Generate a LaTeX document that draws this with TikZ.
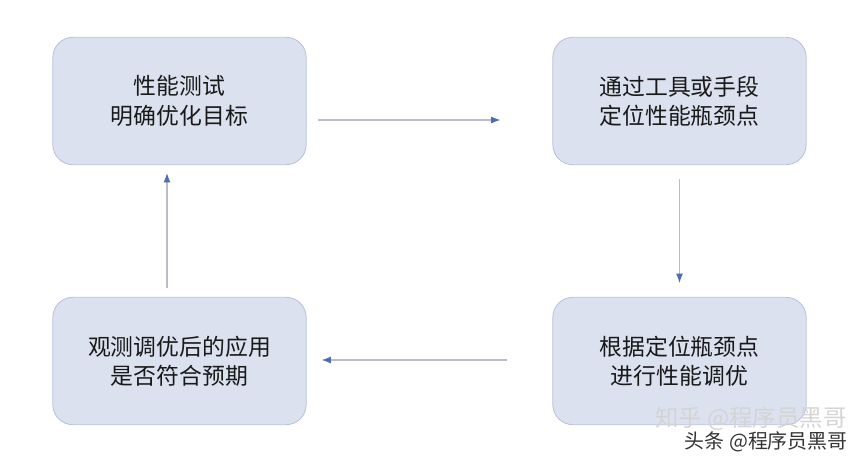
\documentclass[tikz,border=0pt]{standalone}
\usepackage{fontspec}
\usepackage{xcolor}
\usepackage{tikz}
\usetikzlibrary{calc, positioning, arrows.meta}
\newfontfamily\cjk{Noto Sans CJK SC}
\definecolor{boxfill}{HTML}{DCE1EF}
\definecolor{boxline}{HTML}{B7C1DA}
\definecolor{linegray}{HTML}{B9BDC9}
\definecolor{tipblue}{HTML}{4A6DB3}
\definecolor{wmgray}{HTML}{D4D4D4}

\tikzset{
    stepbox/.style={draw=boxline, line width=0.7pt, fill=boxfill, rounded corners=0.6cm,
        minimum width=7.6cm, minimum height=3.82cm, align=center,
        font=\cjk\fontsize{19.5}{25}\selectfont, text=black!90},
    flow/.style={draw=linegray, line width=1pt, -{Latex[color=tipblue, length=8pt, width=6pt]}}
}

\begin{document}
\begin{tikzpicture}[x=0.03cm, y=-0.03cm]
    \useasboundingbox (0,0) rectangle (864,462);

    % Bốn bước
    \node[stepbox] (test) at (179.5,101) {性能测试\\明确优化目标};
    \node[stepbox] (locate) at (679.5,101) {通过工具或手段\\定位性能瓶颈点};
    \node[stepbox] (tune) at (679.5,361) {根据定位瓶颈点\\进行性能调优};
    \node[stepbox] (check) at (179.5,361) {观测调优后的应用\\是否符合预期};

    % Mũi tên
    \draw[flow, shorten <=0.33cm, shorten >=1.56cm] ($(test.east)+(0,19)$) -- ($(locate.west)+(0,19)$);
    \draw[flow, shorten <=0.42cm, shorten >=0.42cm] (locate.south) -- (tune.north);
    \draw[flow, shorten <=1.35cm, shorten >=0.45cm] ($(tune.west)+(0,-1)$) -- ($(check.east)+(0,-1)$);
    \draw[flow, shorten <=0.27cm, shorten >=0.24cm] ($(check.north)+(-12.5,0)$) -- ($(test.south)+(-12.5,0)$);

    % Watermark
    \node[font=\cjk\fontsize{20}{20}\selectfont, text=wmgray, anchor=east, inner sep=1pt] (wm1) at (848,419) {知乎 @程序员黑哥};
    \node[font=\cjk\fontsize{17}{17}\selectfont, text=black!80, anchor=east, inner sep=1pt] (wm2) at (849,442) {头条 @程序员黑哥};
\end{tikzpicture}
\end{document}
